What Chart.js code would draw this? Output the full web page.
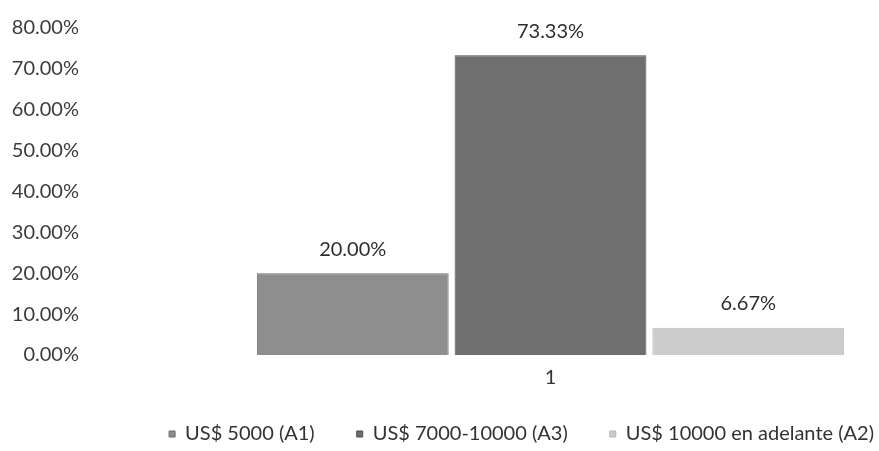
<!DOCTYPE html>
<html><head><meta charset="utf-8">
<script src="https://cdn.jsdelivr.net/npm/chart.js@4/dist/chart.umd.min.js"></script>
<style>html,body{margin:0;padding:0;background:#fff}#wrap{width:879px;height:451px}</style>
</head><body><div id="wrap"><canvas id="c" width="879" height="451"></canvas></div>
<script>
// ---- data ----
const categories = ["1"];
const seriesNames = ["US$ 5000 (A1)", "US$ 7000-10000 (A3)", "US$ 10000 en adelante (A2)"];
const valuesA1 = [20.00];
const valuesA3 = [73.33];
const valuesA2 = [6.67];
const yMin = 0, yMax = 80, yStep = 10;

const FONT = "Lato, 'Open Sans', sans-serif";
const colors = ["#8e8e8e", "#6f6f6f", "#cccccc"];
const borders = ["#6a6a6a", "#4d4d4d", "#b8b8b8"];
const seriesValues = [valuesA1, valuesA3, valuesA2];

// legend layout tweaks: wider horizontal item spacing without extra vertical space
const LEG_PAD = 42, LEG_REDUCE = 22, LEG_UP = 19, LEG_RIGHT = 916;
const LegendCls = Chart.registry.getPlugin('legend')._element;
const origFit = LegendCls.prototype.fit;
LegendCls.prototype.fit = function () {
  origFit.call(this);
  if (this.isHorizontal()) this.height = Math.max(0, this.height - LEG_REDUCE);
};
const origDraw = LegendCls.prototype.draw;
LegendCls.prototype.draw = function () {
  const saved = [this.top, this.height, this.right, this.width];
  this.top -= LEG_UP; this.height += LEG_UP;
  this.right = LEG_RIGHT; this.width = this.right - this.left;
  origDraw.call(this);
  [this.top, this.height, this.right, this.width] = saved;
};

const labelPlugin = {
  id: 'valueLabels',
  afterDatasetsDraw(chart) {
    const ctx = chart.ctx;
    ctx.save();
    ctx.font = "20px " + FONT;
    ctx.fillStyle = "#2e2e2e";
    ctx.textAlign = "center";
    ctx.textBaseline = "middle";
    chart.data.datasets.forEach((ds, i) => {
      const meta = chart.getDatasetMeta(i);
      meta.data.forEach((bar, j) => {
        ctx.fillText(ds.data[j].toFixed(2) + "%", bar.x, bar.y - 24);
      });
    });
    ctx.restore();
  }
};

new Chart(document.getElementById('c'), {
  type: 'bar',
  data: {
    labels: categories,
    datasets: seriesNames.map((n, i) => ({
      label: n,
      data: seriesValues[i],
      backgroundColor: colors[i],
      borderColor: borders[i],
      borderWidth: 1,
      categoryPercentage: 0.903,
      barPercentage: 0.97
    }))
  },
  options: {
    responsive: false,
    animation: false,
    layout: { padding: { top: 28, right: 0, left: 0, bottom: 0 } },
    scales: {
      x: {
        grid: { display: false, drawTicks: false },
        border: { display: false },
        ticks: { color: "#333", font: { family: FONT, size: 20 }, padding: 11 }
      },
      y: {
        weight: 1,
        min: yMin, max: yMax,
        grid: { display: false, drawTicks: false },
        border: { display: false },
        ticks: {
          stepSize: yStep,
          color: "#3c3c3c",
          font: { family: FONT, size: 20 },
          padding: 11,
          callback: v => v.toFixed(2) + "%"
        },
        afterFit(scale) { scale.width = 90; }
      },
      spacer: {
        type: 'linear',
        position: 'left',
        weight: 0,
        grid: { display: false, drawTicks: false },
        border: { display: false },
        ticks: { display: false },
        afterFit(scale) { scale.width = 132; }
      }
    },
    plugins: {
      legend: {
        position: 'bottom',
        align: 'end',
        labels: {
          boxWidth: 6, boxHeight: 6,
          padding: LEG_PAD,
          color: "#333",
          font: { family: FONT, size: 20 }
        }
      },
      tooltip: { enabled: false }
    }
  },
  plugins: [labelPlugin]
});
</script></body></html>
